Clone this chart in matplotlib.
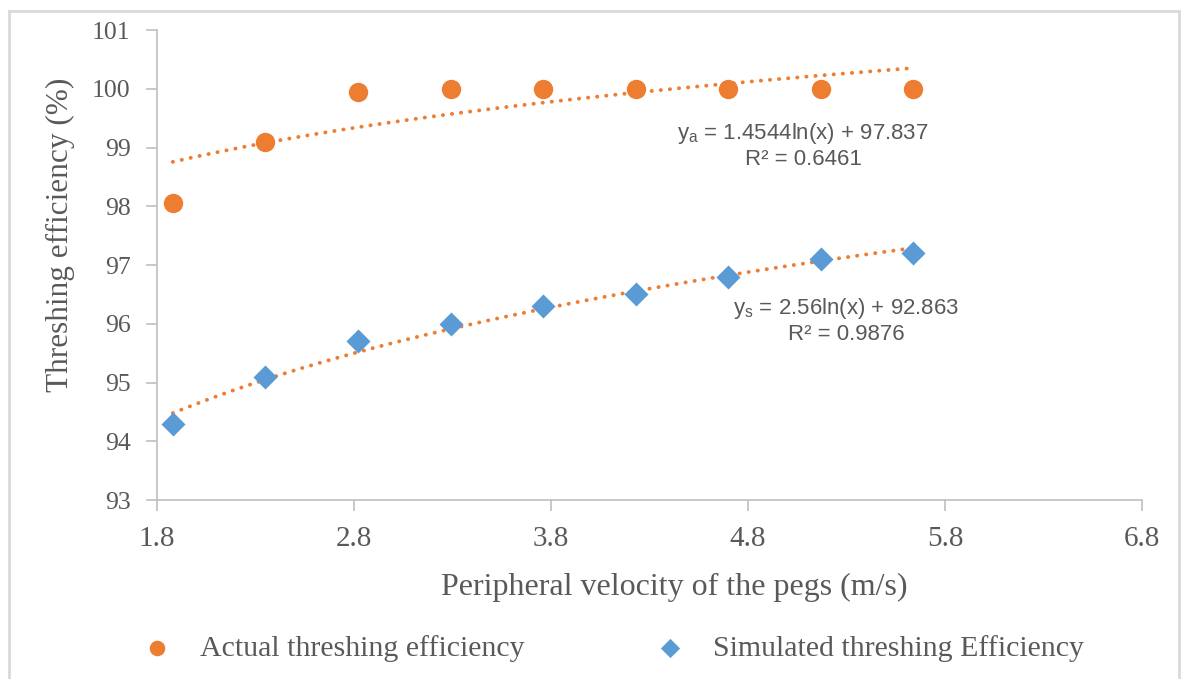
import matplotlib.pyplot as plt
import numpy as np
from matplotlib.lines import Line2D

# peripheral velocity of the pegs (m/s)
velocity = [1.88, 2.35, 2.82, 3.29, 3.76, 4.23, 4.70, 5.17, 5.64]
actual = [98.05, 99.1, 99.95, 100.0, 100.0, 100.0, 100.0, 100.0, 100.0]
simulated = [94.3, 95.1, 95.7, 96.0, 96.3, 96.5, 96.8, 97.1, 97.2]

# log trendline coefficients (a*ln(x) + b)
fit_actual = (1.4544, 97.837)
fit_sim = (2.56, 92.863)

xticks = [1.8, 2.8, 3.8, 4.8, 5.8, 6.8]
yticks = [93, 94, 95, 96, 97, 98, 99, 100, 101]

orange = '#ED7D31'
blue = '#5B9BD5'
grey = '#595959'
serif = 'Liberation Serif'
sans = 'Liberation Sans'

fig = plt.figure(figsize=(11.86, 6.79), dpi=100)
ax = fig.add_axes([0.1324, 0.2636, 0.8305, 0.6922])

xs = np.linspace(velocity[0], velocity[-1], 100)
for a, b in (fit_actual, fit_sim):
    ax.plot(xs, a * np.log(xs) + b, color=orange, lw=2.8,
            linestyle=(0, (0.05, 2.3)), dash_capstyle='round', zorder=2)

h1 = ax.scatter(velocity, actual, s=195, color=orange, marker='o', zorder=3,
                linewidths=0, label='Actual threshing efficiency')
h2 = ax.scatter(velocity, simulated, s=150, color=blue, marker='D', zorder=3,
                linewidths=0, label='Simulated threshing Efficiency')

ax.set_xlim(1.8, 6.8)
ax.set_ylim(93, 101)
ax.set_xticks(xticks)
ax.set_xticklabels([f'{v:.1f}' for v in xticks], fontfamily=serif,
                   fontsize=21, color=grey)
ax.set_yticks(yticks)
ax.set_yticklabels([str(v) for v in yticks], fontfamily=serif,
                   fontsize=18.5, color=grey)
ax.tick_params(axis='both', direction='out', length=8, width=1.2,
               color='#BFBFBF')
ax.tick_params(axis='x', pad=11)
ax.tick_params(axis='y', pad=11)
for side in ('top', 'right'):
    ax.spines[side].set_visible(False)
for side in ('left', 'bottom'):
    ax.spines[side].set_color('#BFBFBF')
    ax.spines[side].set_linewidth(1.2)

ax.set_xlabel('Peripheral velocity of the pegs (m/s)', fontfamily=serif,
              fontsize=23, color=grey, labelpad=15)
ax.xaxis.label.set_x(0.525)
ax.set_ylabel('Threshing efficiency (%)', fontfamily=serif,
              fontsize=22.5, color=grey, labelpad=12)
ax.yaxis.label.set_y(0.564)

ax.text(5.08, 99.03, r'y$_\mathregular{a}$ = 1.4544ln(x) + 97.837' + '\nR² = 0.6461',
        fontfamily=sans, fontsize=16, color=grey, ha='center', va='center',
        linespacing=1.2)
ax.text(5.30, 96.05, r'y$_\mathregular{s}$ = 2.56ln(x) + 92.863' + '\nR² = 0.9876',
        fontfamily=sans, fontsize=16, color=grey, ha='center', va='center',
        linespacing=1.2)

# two single-entry legends below the plot
legend_kw = dict(loc='center left', frameon=False, handlelength=1.0,
                 handletextpad=0.93, markerscale=0.8, borderpad=0,
                 borderaxespad=0, prop={'family': serif, 'size': 21.5})
leg1 = fig.legend([h1], [h1.get_label()], bbox_to_anchor=(0.1201, 0.045),
                  **legend_kw)
leg2 = fig.legend([h2], [h2.get_label()], bbox_to_anchor=(0.5526, 0.045),
                  **legend_kw)
for leg in (leg1, leg2):
    for t in leg.get_texts():
        t.set_color(grey)

# chart border (left, top, right)
W, H = 1186, 679
frame = dict(color='#D9D9D9', lw=2, transform=fig.transFigure)
fig.add_artist(Line2D([9 / W, 9 / W], [0, 1 - 11 / H], **frame))
fig.add_artist(Line2D([9 / W, 1179 / W], [1 - 11 / H, 1 - 11 / H], **frame))
fig.add_artist(Line2D([1179 / W, 1179 / W], [0, 1 - 11 / H], **frame))

fig.savefig('out.png', dpi=100, facecolor='white')
